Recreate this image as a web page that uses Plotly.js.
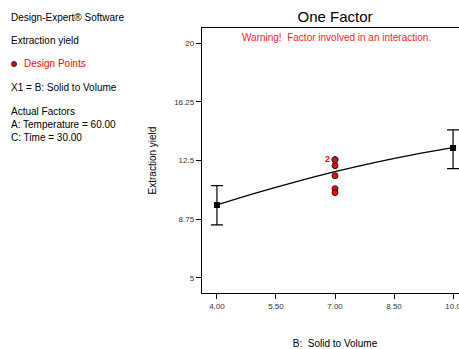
<!DOCTYPE html>
<html>
<head>
<meta charset="utf-8">
<script src="https://cdn.plot.ly/plotly-3.0.1.min.js"></script>
<style>
html,body{margin:0;padding:0;overflow:hidden;background:#fff;width:459px;height:349px;}
#chart{width:480px;height:349px;}
</style>
</head>
<body>
<div id="chart"></div>
<script>
// Predicted curve
const curveX = [4, 5, 6, 7, 8, 9, 10];
const curveY = [9.66, 10.43, 11.14, 11.79, 12.37, 12.88, 13.32];
// End points with LSD/CI bars
const endX = [4, 10];
const endY = [9.66, 13.30];
const endErrPlus = [1.23, 1.15];
const endErrMinus = [1.27, 1.32];
// Design points
const ptsX = [7, 7, 7, 7, 7, 7];
const ptsY = [12.55, 12.55, 12.17, 11.53, 10.70, 10.45];
// Ticks
const yTicks = [5, 8.75, 12.5, 16.25, 20];
const yTickText = ["5", "8.75", "12.5", "16.25", "20"];
const xTicks = [4, 5.5, 7, 8.5, 10];
const xTickText = ["4.00", "5.50", "7.00", "8.50", "10.0"];

const W = 480, H = 349;
const M = {l: 202, r: 12, t: 28, b: 56};
const PW = W - M.l - M.r, PH = H - M.t - M.b;
const px = x => (x - M.l) / PW;
const py = y => (H - M.b - y) / PH;
const FONT = "Liberation Sans, Arial, sans-serif";

const traces = [
  {x: curveX, y: curveY, mode: 'lines', line: {color: '#000', width: 1.3, shape: 'spline'}, hoverinfo: 'skip'},
  {x: endX, y: endY, mode: 'markers', marker: {symbol: 'square', size: 6, color: '#000'},
   error_y: {type: 'data', symmetric: false, array: endErrPlus, arrayminus: endErrMinus, color: '#000', thickness: 1.2, width: 6}},
  {x: ptsX, y: ptsY, mode: 'markers', marker: {symbol: 'circle', size: 6, color: '#ff0000', line: {color: '#222', width: 1}}}
];

const leftTexts = [
  ["Design-Expert® Software", 17, '#000', 10],
  ["Extraction yield", 40, '#000', 10],
  ["X1 = B: Solid to Volume", 88, '#000', 10],
  ["Actual Factors", 111, '#000', 10],
  ["A: Temperature = 60.00", 124, '#000', 10],
  ["C: Time = 30.00", 137, '#000', 10]
];
const annotations = leftTexts.map(t => ({
  text: t[0], xref: 'paper', yref: 'paper', x: px(9), y: py(t[1]),
  xanchor: 'left', yanchor: 'middle', showarrow: false,
  font: {family: FONT, size: t[3], color: t[2]}
}));
annotations.push({text: "Design Points", xref: 'paper', yref: 'paper', x: px(22), y: py(64),
  xanchor: 'left', yanchor: 'middle', showarrow: false, font: {family: FONT, size: 10, color: '#ff0000'}});
annotations.push({text: "Warning!  Factor involved in an interaction.", xref: 'paper', yref: 'paper', x: px(336), y: py(37),
  xanchor: 'center', yanchor: 'middle', showarrow: false, font: {family: FONT, size: 10, color: '#ff2020'}});
annotations.push({text: "<b>2</b>", xref: 'x', yref: 'y', x: ptsX[0], y: ptsY[0], xshift: -8, yshift: 1,
  xanchor: 'center', yanchor: 'middle', showarrow: false, font: {family: FONT, size: 9, color: '#ff0000'}});

const layout = {
  width: W, height: H, margin: M, showlegend: false,
  paper_bgcolor: '#fff', plot_bgcolor: '#fff',
  font: {family: FONT},
  title: {text: "One Factor", font: {family: FONT, size: 15, color: '#000'},
    xref: 'paper', x: 0.5, yref: 'container', y: 1 - 17/H, yanchor: 'middle'},
  xaxis: {range: [3.62, 10.38], tickvals: xTicks, ticktext: xTickText, ticks: 'outside', ticklen: 5,
    tickcolor: '#000', showgrid: false, zeroline: false, showline: true, linecolor: '#000', linewidth: 1.2, mirror: true,
    tickfont: {family: FONT, size: 8, color: '#333'},
    title: {text: "B:  Solid to Volume", font: {family: FONT, size: 10, color: '#000'}, standoff: 33}},
  yaxis: {range: [4.04, 20.96], tickvals: yTicks, ticktext: yTickText, ticks: 'outside', ticklen: 5,
    tickcolor: '#000', showgrid: false, zeroline: false, showline: true, linecolor: '#000', linewidth: 1.2, mirror: true,
    tickfont: {family: FONT, size: 8, color: '#333'},
    title: {text: "Extraction yield", font: {family: FONT, size: 10, color: '#000'}, standoff: 15}},
  annotations: annotations,
  shapes: [{type: 'circle', xref: 'paper', yref: 'paper', x0: px(11.5), x1: px(16.5), y0: py(61.5), y1: py(66.5),
    fillcolor: '#ff0000', line: {color: '#222', width: 1}}]
};

Plotly.newPlot('chart', traces, layout, {displayModeBar: false, staticPlot: true});
</script>
</body>
</html>
